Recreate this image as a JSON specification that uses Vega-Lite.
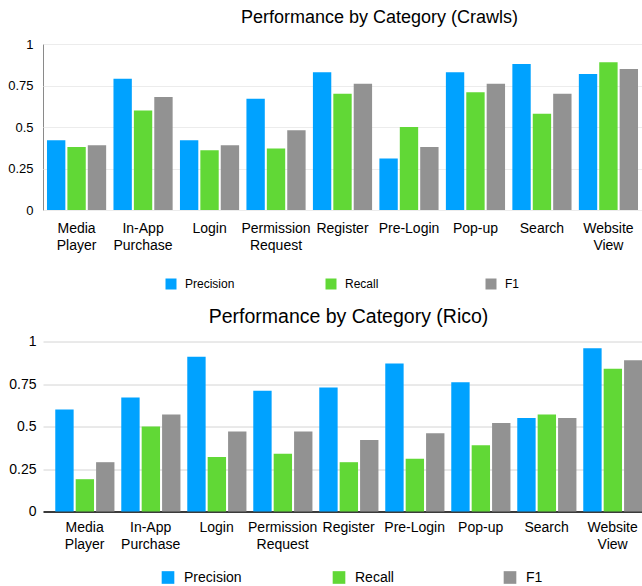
{
  "$schema": "https://vega.github.io/schema/vega-lite/v6.json",
  "padding": {"left": 7, "top": 8, "right": 0, "bottom": 0},
  "background": "white",
  "config": {
    "font": "Liberation Sans",
    "view": {"stroke": "#8a8a8a"},
    "title": {"font": "Liberation Sans", "fontWeight": "normal", "color": "#000000"},
    "axis": {"labelFont": "Liberation Sans", "labelColor": "#000000"},
    "legend": {"labelFont": "Liberation Sans", "labelColor": "#000000"}
  },
  "spacing": 15.5,
  "resolve": {"scale": {"color": "independent"}, "legend": {"color": "independent"}},
  "vconcat": [
    {
      "title": {"text": "Performance by Category (Crawls)", "fontSize": 18, "dx": 37, "offset": 11},
      "width": 599,
      "height": 166,
      "view": {"stroke": "#8a8a8a", "strokeWidth": 1},
      "data": {"values": [
        {"category": "Media Player", "metric": "Precision", "value": 0.42},
        {"category": "Media Player", "metric": "Recall", "value": 0.38},
        {"category": "Media Player", "metric": "F1", "value": 0.39},
        {"category": "In-App Purchase", "metric": "Precision", "value": 0.79},
        {"category": "In-App Purchase", "metric": "Recall", "value": 0.60},
        {"category": "In-App Purchase", "metric": "F1", "value": 0.68},
        {"category": "Login", "metric": "Precision", "value": 0.42},
        {"category": "Login", "metric": "Recall", "value": 0.36},
        {"category": "Login", "metric": "F1", "value": 0.39},
        {"category": "Permission Request", "metric": "Precision", "value": 0.67},
        {"category": "Permission Request", "metric": "Recall", "value": 0.37},
        {"category": "Permission Request", "metric": "F1", "value": 0.48},
        {"category": "Register", "metric": "Precision", "value": 0.83},
        {"category": "Register", "metric": "Recall", "value": 0.70},
        {"category": "Register", "metric": "F1", "value": 0.76},
        {"category": "Pre-Login", "metric": "Precision", "value": 0.31},
        {"category": "Pre-Login", "metric": "Recall", "value": 0.50},
        {"category": "Pre-Login", "metric": "F1", "value": 0.38},
        {"category": "Pop-up", "metric": "Precision", "value": 0.83},
        {"category": "Pop-up", "metric": "Recall", "value": 0.71},
        {"category": "Pop-up", "metric": "F1", "value": 0.76},
        {"category": "Search", "metric": "Precision", "value": 0.88},
        {"category": "Search", "metric": "Recall", "value": 0.58},
        {"category": "Search", "metric": "F1", "value": 0.70},
        {"category": "Website View", "metric": "Precision", "value": 0.82},
        {"category": "Website View", "metric": "Recall", "value": 0.89},
        {"category": "Website View", "metric": "F1", "value": 0.85}
      ]},
      "mark": {"type": "bar"},
      "encoding": {
        "x": {
          "field": "category", "type": "nominal",
          "sort": ["Media Player", "In-App Purchase", "Login", "Permission Request", "Register", "Pre-Login", "Pop-up", "Search", "Website View"],
          "scale": {"paddingInner": 0.11, "paddingOuter": 0.06},
          "axis": {"title": null, "labelAngle": 0, "labelFontSize": 14, "labelPadding": 11.5, "labelLineHeight": 17, "domain": false, "ticks": false, "labelExpr": "split(datum.label, ' ')"}
        },
        "xOffset": {"field": "metric", "type": "nominal", "sort": ["Precision", "Recall", "F1"], "scale": {"paddingInner": 0.1}},
        "y": {
          "field": "value", "type": "quantitative",
          "scale": {"domain": [0, 1]},
          "axis": {"title": null, "values": [0, 0.25, 0.5, 0.75, 1], "format": ".2~f", "labelFontSize": 13, "labelPadding": 10, "ticks": false, "domain": false, "gridColor": "#ececec"}
        },
        "color": {
          "field": "metric", "type": "nominal",
          "scale": {"domain": ["Precision", "Recall", "F1"], "range": ["#00A2FF", "#61D836", "#929292"]},
          "legend": {"title": null, "orient": "none", "legendX": 122, "legendY": 234, "direction": "horizontal", "columns": 3, "gridAlign": "all", "columnPadding": 90, "symbolType": "square", "symbolSize": 121, "symbolStrokeWidth": 0, "labelFontSize": 12, "labelOffset": 8}
        }
      }
    },
    {
      "title": {"text": "Performance by Category (Rico)", "fontSize": 19.5, "offset": 7, "dx": 6},
      "width": 599,
      "height": 170,
      "view": {"stroke": null},
      "data": {"values": [
        {"category": "Media Player", "metric": "Precision", "value": 0.60},
        {"category": "Media Player", "metric": "Recall", "value": 0.19},
        {"category": "Media Player", "metric": "F1", "value": 0.29},
        {"category": "In-App Purchase", "metric": "Precision", "value": 0.67},
        {"category": "In-App Purchase", "metric": "Recall", "value": 0.50},
        {"category": "In-App Purchase", "metric": "F1", "value": 0.57},
        {"category": "Login", "metric": "Precision", "value": 0.91},
        {"category": "Login", "metric": "Recall", "value": 0.32},
        {"category": "Login", "metric": "F1", "value": 0.47},
        {"category": "Permission Request", "metric": "Precision", "value": 0.71},
        {"category": "Permission Request", "metric": "Recall", "value": 0.34},
        {"category": "Permission Request", "metric": "F1", "value": 0.47},
        {"category": "Register", "metric": "Precision", "value": 0.73},
        {"category": "Register", "metric": "Recall", "value": 0.29},
        {"category": "Register", "metric": "F1", "value": 0.42},
        {"category": "Pre-Login", "metric": "Precision", "value": 0.87},
        {"category": "Pre-Login", "metric": "Recall", "value": 0.31},
        {"category": "Pre-Login", "metric": "F1", "value": 0.46},
        {"category": "Pop-up", "metric": "Precision", "value": 0.76},
        {"category": "Pop-up", "metric": "Recall", "value": 0.39},
        {"category": "Pop-up", "metric": "F1", "value": 0.52},
        {"category": "Search", "metric": "Precision", "value": 0.55},
        {"category": "Search", "metric": "Recall", "value": 0.57},
        {"category": "Search", "metric": "F1", "value": 0.55},
        {"category": "Website View", "metric": "Precision", "value": 0.96},
        {"category": "Website View", "metric": "Recall", "value": 0.84},
        {"category": "Website View", "metric": "F1", "value": 0.89}
      ]},
      "mark": {"type": "bar"},
      "encoding": {
        "x": {
          "field": "category", "type": "nominal",
          "sort": ["Media Player", "In-App Purchase", "Login", "Permission Request", "Register", "Pre-Login", "Pop-up", "Search", "Website View"],
          "scale": {"paddingInner": 0.11, "paddingOuter": 0.093, "align": 1},
          "axis": {"title": null, "labelAngle": 0, "labelFontSize": 14, "labelPadding": 9, "labelLineHeight": 17, "domain": true, "domainColor": "#000000", "domainWidth": 1.5, "ticks": false, "labelExpr": "split(datum.label, ' ')"}
        },
        "xOffset": {"field": "metric", "type": "nominal", "sort": ["Precision", "Recall", "F1"], "scale": {"paddingInner": 0.1}},
        "y": {
          "field": "value", "type": "quantitative",
          "scale": {"domain": [0, 1]},
          "axis": {"title": null, "values": [0, 0.25, 0.5, 0.75, 1], "format": ".2~f", "labelFontSize": 14, "labelPadding": 7, "ticks": false, "domain": false, "gridColor": "#d4d4d4"}
        },
        "color": {
          "field": "metric", "type": "nominal",
          "scale": {"domain": ["Precision", "Recall", "F1"], "range": ["#00A2FF", "#61D836", "#929292"]},
          "legend": {"title": null, "orient": "none", "legendX": 118, "legendY": 229, "direction": "horizontal", "columns": 3, "gridAlign": "all", "columnPadding": 90, "symbolType": "square", "symbolSize": 160, "symbolStrokeWidth": 0, "labelFontSize": 14, "labelOffset": 9}
        }
      }
    }
  ]
}
